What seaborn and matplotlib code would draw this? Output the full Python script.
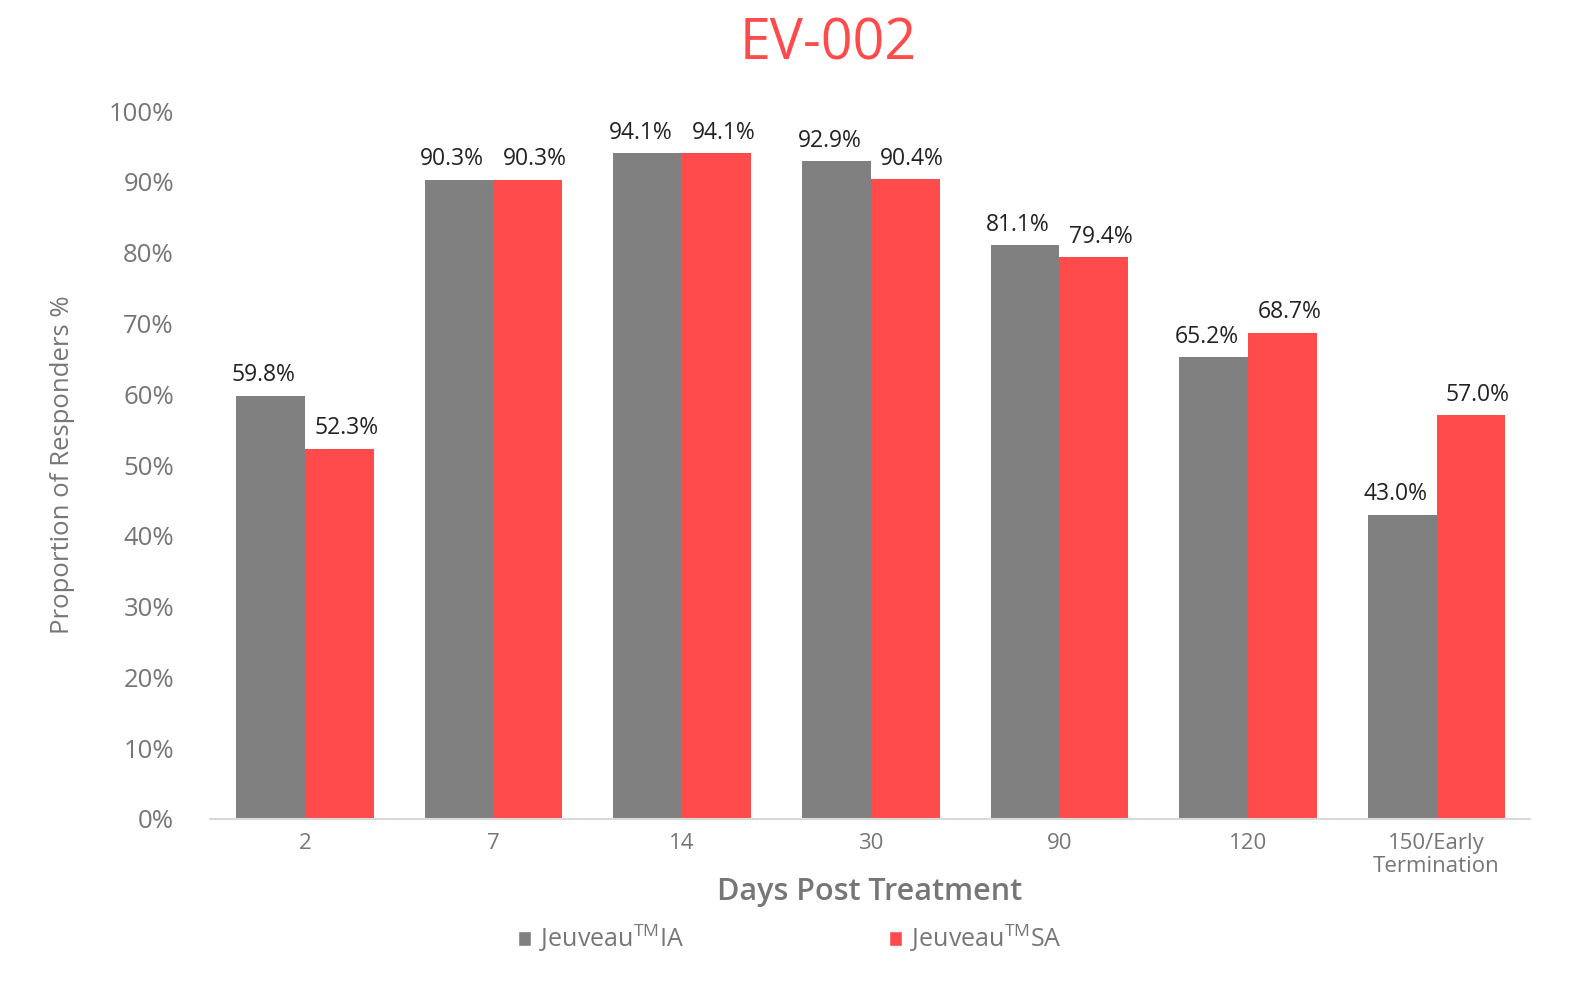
import matplotlib
matplotlib.use("Agg")
import matplotlib.pyplot as plt
import seaborn as sns
import pandas as pd
from matplotlib.patches import Patch

days = ["2", "7", "14", "30", "90", "120", "150/Early\nTermination"]
ia_values = [59.8, 90.3, 94.1, 92.9, 81.1, 65.2, 43.0]
sa_values = [52.3, 90.3, 94.1, 90.4, 79.4, 68.7, 57.0]
series = ["Jeuveau$^{\\mathrm{TM}}$IA", "Jeuveau$^{\\mathrm{TM}}$SA"]
yticks = [0, 10, 20, 30, 40, 50, 60, 70, 80, 90, 100]

gray = "#808080"
red = "#FF4B4B"
txt = "#767676"
FONT = 'Open Sans'

sns.set_theme(style="white")
plt.rcParams['font.family'] = [FONT, 'DejaVu Sans']
plt.rcParams['mathtext.fontset'] = 'custom'
plt.rcParams['mathtext.rm'] = FONT

df = pd.DataFrame({
    "day": days * 2,
    "value": ia_values + sa_values,
    "series": [series[0]] * len(days) + [series[1]] * len(days),
})

fig = plt.figure(figsize=(15.95, 9.92), dpi=100)
ax = fig.add_axes([0.1317, 0.1744, 0.8273, 0.7136])

sns.barplot(data=df, x="day", y="value", hue="series", order=days,
            hue_order=series, palette=[gray, red], width=0.73,
            saturation=1, ax=ax, legend=False, linewidth=0, edgecolor="none")

# value labels, nudged slightly outward so neighbouring labels do not touch
for cont, dx in zip(ax.containers, [-5, 5]):
    for rect, v in zip(cont, cont.datavalues):
        ax.annotate(f"{v:.1f}%", (rect.get_x() + rect.get_width() / 2, rect.get_height()),
                    xytext=(dx, 6), textcoords="offset points", ha="center", va="bottom",
                    fontsize=16.5, color="#222222")

ax.set_ylim(0, 100)
ax.set_xlim(-0.503, 6.493)
ax.set_yticks(yticks)
ax.set_yticklabels([f"{t}%" for t in yticks], fontsize=18.5, color=txt)
ax.tick_params(axis='x', labelsize=16, colors=txt, length=0, pad=10)
ax.tick_params(axis='y', length=0, pad=26)
for lab in ax.get_xticklabels():
    lab.set_linespacing(1.15)

for s in ["top", "right", "left"]:
    ax.spines[s].set_visible(False)
ax.spines["bottom"].set_color("#d9d9d9")
ax.spines["bottom"].set_linewidth(1.5)

ax.set_xlabel("Days Post Treatment", fontsize=22, color=txt, fontweight="semibold", labelpad=0)
ax.set_ylabel("Proportion of Responders %", fontsize=18.5, color=txt, labelpad=24)

fig.text(0.519, 0.955, "EV-002", ha="center", va="center", fontsize=40, color=red)

handles = [Patch(facecolor=gray), Patch(facecolor=red)]
fig.legend(handles, series, loc="center", bbox_to_anchor=(0.495, 0.054), ncol=2,
           frameon=False, fontsize=18, labelcolor=txt, handlelength=0.55,
           handleheight=0.55, handletextpad=0.3, columnspacing=8.2)

fig.savefig("out.png", dpi=100, facecolor="white")
